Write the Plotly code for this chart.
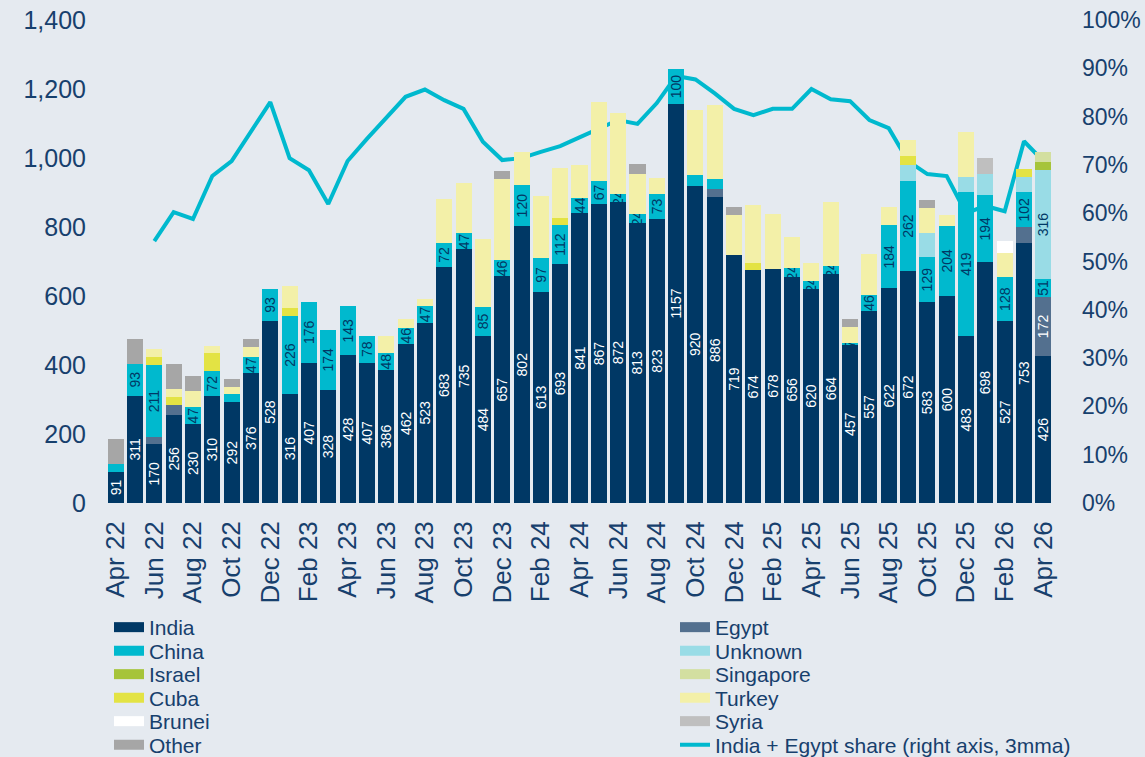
import plotly.graph_objects as go

months = ["Apr 22","May 22","Jun 22","Jul 22","Aug 22","Sep 22","Oct 22","Nov 22","Dec 22",
          "Jan 23","Feb 23","Mar 23","Apr 23","May 23","Jun 23","Jul 23","Aug 23","Sep 23","Oct 23","Nov 23","Dec 23",
          "Jan 24","Feb 24","Mar 24","Apr 24","May 24","Jun 24","Jul 24","Aug 24","Sep 24","Oct 24","Nov 24","Dec 24",
          "Jan 25","Feb 25","Mar 25","Apr 25","May 25","Jun 25","Jul 25","Aug 25","Sep 25","Oct 25","Nov 25","Dec 25",
          "Jan 26","Feb 26","Mar 26","Apr 26"]

india = [91,311,170,256,230,310,292,376,528,316,407,328,428,407,386,462,523,683,735,484,657,802,613,693,
         841,867,872,813,823,1157,920,886,719,674,678,656,620,664,457,557,622,672,583,600,483,698,527,753,426]
egypt = [0,0,20,29,0,0,0,0,0,0,0,0,0,0,0,0,0,0,0,0,0,0,0,0,
         0,0,0,0,0,0,0,23,0,0,0,0,0,0,0,0,0,0,0,0,0,0,0,46,172]
china = [23,93,211,0,47,72,23,47,93,226,176,174,143,78,48,46,47,72,47,85,46,120,97,112,
         44,67,24,24,73,100,32,29,0,0,0,24,24,24,7,46,184,262,129,204,419,194,128,102,51]
china_labelled = [0,1,1,0,1,1,0,1,1,1,1,1,1,1,1,1,1,1,1,1,1,1,1,1,
                  1,1,1,1,1,1,0,0,0,0,0,1,1,1,1,1,1,1,1,1,1,1,1,1,1]
unknown = [0]*41 + [46,70,0,43,61,0,43,316]
israel = [0]*48 + [23]
singapore = [0]*48 + [29]
cuba = [0,0,23,23,0,52,0,0,0,23,0,0,0,0,0,0,0,0,0,0,0,0,0,20,
        0,0,0,0,0,0,0,0,0,23,0,0,0,0,0,0,0,26,0,0,0,0,0,23,0]
turkey = [0,0,22,23,49,22,20,29,0,63,0,0,0,0,50,24,22,125,145,196,235,96,179,145,
          96,229,235,116,46,0,186,216,116,167,161,90,52,185,46,119,52,46,72,31,130,0,70,0,0]
brunei = [0]*46 + [35,0,0]
syria = [0]*45 + [46,0,0,0]
other = [72,70,0,72,41,0,23,23,0,0,0,0,0,0,0,0,0,0,0,0,23,0,0,0,
         0,0,0,29,0,0,0,0,23,0,0,0,0,0,23,0,0,0,23,0,0,0,0,0,0]
share = [None,None,54.2,60.2,58.8,67.7,70.8,76.8,83.0,71.4,68.9,61.9,70.8,75.4,79.7,84.1,85.6,83.4,81.6,
         74.8,71.0,71.4,72.7,73.9,75.7,77.6,79.3,78.5,82.8,88.4,87.7,84.8,81.6,80.3,81.6,81.6,85.7,83.6,
         83.2,79.3,77.6,70.8,68.1,67.7,60.0,61.5,60.4,74.9,70.8]

y_ticks = [0,200,400,600,800,1000,1200,1400]
y2_ticks = [0,10,20,30,40,50,60,70,80,90,100]
y2_labels = [f"{v}%" for v in y2_ticks]

TXT = "#17406D"
FONT = "Liberation Sans, Arial, sans-serif"
BG = "#E5EAF0"
LINE_NAME = "India + Egypt share (right axis, 3mma)"

series = [
    ("India", india, "#003865", "white", [str(v) for v in india]),
    ("Egypt", egypt, "#53708F", "white", [str(v) if i == len(egypt)-1 else "" for i, v in enumerate(egypt)]),
    ("China", china, "#00B9CE", "#003865", [str(v) if (f and v) else "" for v, f in zip(china, china_labelled)]),
    ("Unknown", unknown, "#99DCE6", "#003865", [str(v) if i == len(unknown)-1 else "" for i, v in enumerate(unknown)]),
    ("Israel", israel, "#A6C43A", TXT, None),
    ("Singapore", singapore, "#D3DFA0", TXT, None),
    ("Cuba", cuba, "#E3E344", TXT, None),
    ("Turkey", turkey, "#F3F0A8", TXT, None),
    ("Brunei", brunei, "#FFFFFF", TXT, None),
    ("Syria", syria, "#BFBFBF", TXT, None),
    ("Other", other, "#A6A6A6", TXT, None),
]
colors = {s[0]: s[2] for s in series}

fig = go.Figure()
for name, vals, col, tcol, txt in series:
    fig.add_trace(go.Bar(
        x=months, y=vals, name=name, marker=dict(color=col, line=dict(width=0)),
        text=txt, textposition="inside" if txt else "none", insidetextanchor="middle",
        textangle=-90, textfont=dict(color=tcol, size=14, family=FONT),
        cliponaxis=False, showlegend=False, yaxis="y2"))

# legend layout: two columns, six rows
left_col = ["India", "China", "Israel", "Cuba", "Brunei", "Other"]
right_col = ["Egypt", "Unknown", "Singapore", "Turkey", "Syria", LINE_NAME]
row_px = [628, 651.5, 675, 698.5, 722, 745.5]
plot_top, plot_bot, plot_l, plot_w = 20, 503, 106, 947

legends = {}
k = 0
for col_items, origin_px in ((left_col, 109), (right_col, 675)):
    for r, n in enumerate(col_items):
        k += 1
        lname = "legend" if k == 1 else f"legend{k}"
        legends[lname] = dict(
            orientation="v", x=(origin_px - plot_l) / plot_w, xanchor="left",
            y=(plot_bot - (row_px[r] - 21)) / (plot_bot - plot_top), yanchor="top",
            bgcolor="rgba(0,0,0,0)", font=dict(size=21, color=TXT, family=FONT), itemwidth=30)
        if n == LINE_NAME:
            fig.add_trace(go.Scatter(x=months, y=share, mode="lines", name=n,
                                     line=dict(color="#00B9CE", width=4), yaxis="y", legend=lname))
        else:
            fig.add_trace(go.Scatter(x=[None], y=[None], mode="lines", name=n,
                                     line=dict(color=colors[n], width=12), legend=lname, yaxis="y",
                                     hoverinfo="skip"))

fig.update_layout(
    width=1145, height=757, barmode="stack", bargap=0.17,
    paper_bgcolor=BG, plot_bgcolor=BG,
    margin=dict(l=plot_l, r=1145 - plot_l - plot_w, t=plot_top, b=757 - plot_bot, autoexpand=False),
    font=dict(family=FONT, color=TXT),
    uniformtext=dict(minsize=14, mode="show"),
    xaxis=dict(type="category", tickangle=-90, tickvals=months[::2], ticktext=months[::2],
               tickfont=dict(size=26, color=TXT), showgrid=False, showline=False, zeroline=False,
               ticklabelstandoff=12),
    yaxis=dict(range=[0, 100], tickvals=y2_ticks, ticktext=y2_labels, side="right",
               tickfont=dict(size=23, color=TXT), showgrid=False, zeroline=False,
               ticklabelstandoff=28),
    yaxis2=dict(range=[0, 1400], tickvals=y_ticks, tickformat=",", side="left", overlaying="y",
                tickfont=dict(size=25, color=TXT), showgrid=False, zeroline=False,
                ticklabelstandoff=19),
    **legends,
)

fig.write_html("out.html", config={"displayModeBar": False},
               post_script="document.body.style.margin='0px';document.body.style.background='%s';" % BG)
